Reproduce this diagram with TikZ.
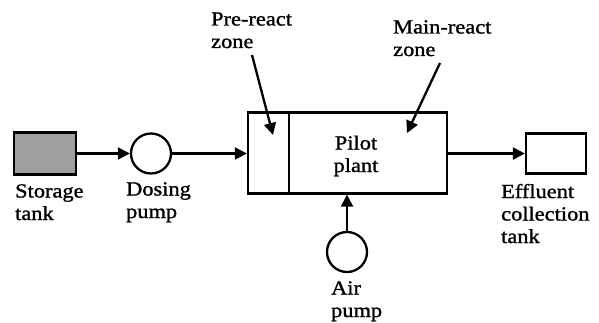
\documentclass[tikz,border=0pt]{standalone}
\usepackage{fontspec}
\setmainfont{Liberation Serif}
\newfontfamily\lblfont[FakeStretch=1.12,FakeBold=1.2]{Liberation Serif}
\usetikzlibrary{arrows.meta}
\begin{document}
\begin{tikzpicture}[x=1pt,y=-1pt,
  line width=2.3pt,
  arr/.style={-{Triangle[length=12pt,width=12pt]}},
  lbl/.style={font=\lblfont\fontsize{20}{22.5}\selectfont,align=left,inner sep=0pt,anchor=base west},
  pumpc/.style={draw,circle,minimum size=40pt,inner sep=0pt}]
\useasboundingbox (0,0) rectangle (599,323);
% storage tank
\node[draw,fill=gray!75,minimum width=62pt,minimum height=42pt,inner sep=0pt] (st) at (45,153.5) {};
\node[pumpc] (dp) at (151,153.5) {};
\node[draw,minimum width=199pt,minimum height=81pt,inner sep=0pt] (pp) at (347.5,153) {};
\coordinate (divt) at (289,112.5);
\coordinate (divb) at (289,193.5);
\draw (divt) -- (divb);
\node[draw,minimum width=60pt,minimum height=40pt,inner sep=0pt] (ef) at (556,153.5) {};
\node[pumpc] (ap) at (347,252) {};
% connectors
\draw[arr] (st.east) -- (dp.west);
\draw[arr] (dp.east) -- (pp.west |- dp.east);
\draw[arr] (pp.east |- ef.west) -- (ef.west);
\draw[arr] (ap.north) -- (pp.south -| ap.north);
% labels
\node[lbl] (stl) at (14,220) {Storage\\tank};
\node[lbl] (dpl) at (125,218) {Dosing\\pump};
\node[lbl] (prl) at (210,48) {Pre-react\\zone};
\node[lbl] (mrl) at (392,56) {Main-react\\zone};
\node[lbl,align=center,anchor=base] (ppl) at (356,172) {Pilot\\plant};
\node[lbl] (efl) at (500,243) {Effluent\\collection\\tank};
\node[lbl] (apl) at (330,317) {Air\\pump};
\coordinate (pra) at (252,55);
\coordinate (prb) at (273,135);
\coordinate (mra) at (440,63);
\coordinate (mrb) at (407,133);
\draw[arr] (pra) -- (prb);
\draw[arr] (mra) -- (mrb);
\end{tikzpicture}
\end{document}
